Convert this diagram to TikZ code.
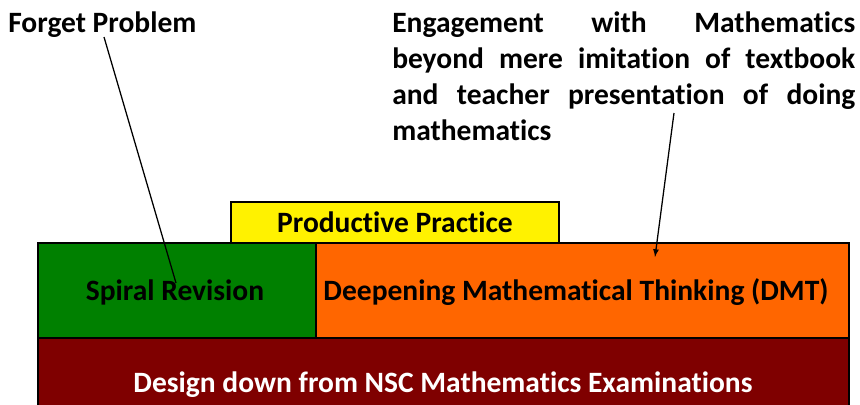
\documentclass[tikz,border=0pt]{standalone}
\usepackage{fontspec}
\setmainfont{Carlito}[Ligatures=NoCommon]
\usepackage{tikz}
\usetikzlibrary{arrows}
\definecolor{maroon}{HTML}{7F0000}
\definecolor{darkgreen}{HTML}{008000}
\definecolor{dmtorange}{HTML}{FF6600}
\tikzstyle{layer} = [draw, line width=0.8pt]
\tikzstyle{label} = [font=\fontsize{21}{25.6}\selectfont\bfseries, inner sep=0pt]
\tikzstyle{line} = [draw, line width=0.9pt]

\begin{document}
\begin{tikzpicture}
	\clip (0,0) rectangle (21.5,-10.1);
	\fill[white] (0,0) rectangle (21.5,-10.1);
	% -------------- Layers --------------
	\draw[layer, fill=maroon]     (0.95,-8.45)   rectangle (21.225,-10.3);
	\draw[layer, fill=darkgreen]  (0.95,-6.075)  rectangle (7.9,-8.45);
	\draw[layer, fill=dmtorange]  (7.9,-6.075)   rectangle (21.225,-8.45);
	\draw[layer, fill=yellow]     (5.775,-5.05)  rectangle (13.975,-6.075);
	\node[label]              (practice) at (9.875,-5.55)  {Productive Practice};
	\node[label]              (spiral)   at (4.375,-7.3)   {Spiral Revision};
	\node[label]              (dmt)      at (14.4,-7.3)    {Deepening Mathematical Thinking (DMT)};
	\node[label, text=white]  (design)   at (11.075,-9.625) {Design down from NSC Mathematics Examinations};
	% -------------- Comments --------------
	\node[label, anchor=west] (forget) at (0.2,-0.62) {Forget Problem};
	\node[label, anchor=north west, text width=11.575cm, align=left] (engage) at (9.8,-0.3)
		{Engagement\hfill with\hfill Mathematics\\
		 beyond\hfill mere\hfill imitation\hfill of\hfill textbook\\
		 and\hfill teacher\hfill presentation\hfill of\hfill doing\\
		 mathematics};
	\coordinate (forgetend) at (4.4,-7.075);
	\coordinate (engagestart) at (16.85,-2.825);
	\coordinate (engageend) at (16.375,-6.425);
	\draw[line] (2.6,-0.925) -- (forgetend);
	\draw[line, -latex] (engagestart) -- (engageend);
\end{tikzpicture}
\end{document}
